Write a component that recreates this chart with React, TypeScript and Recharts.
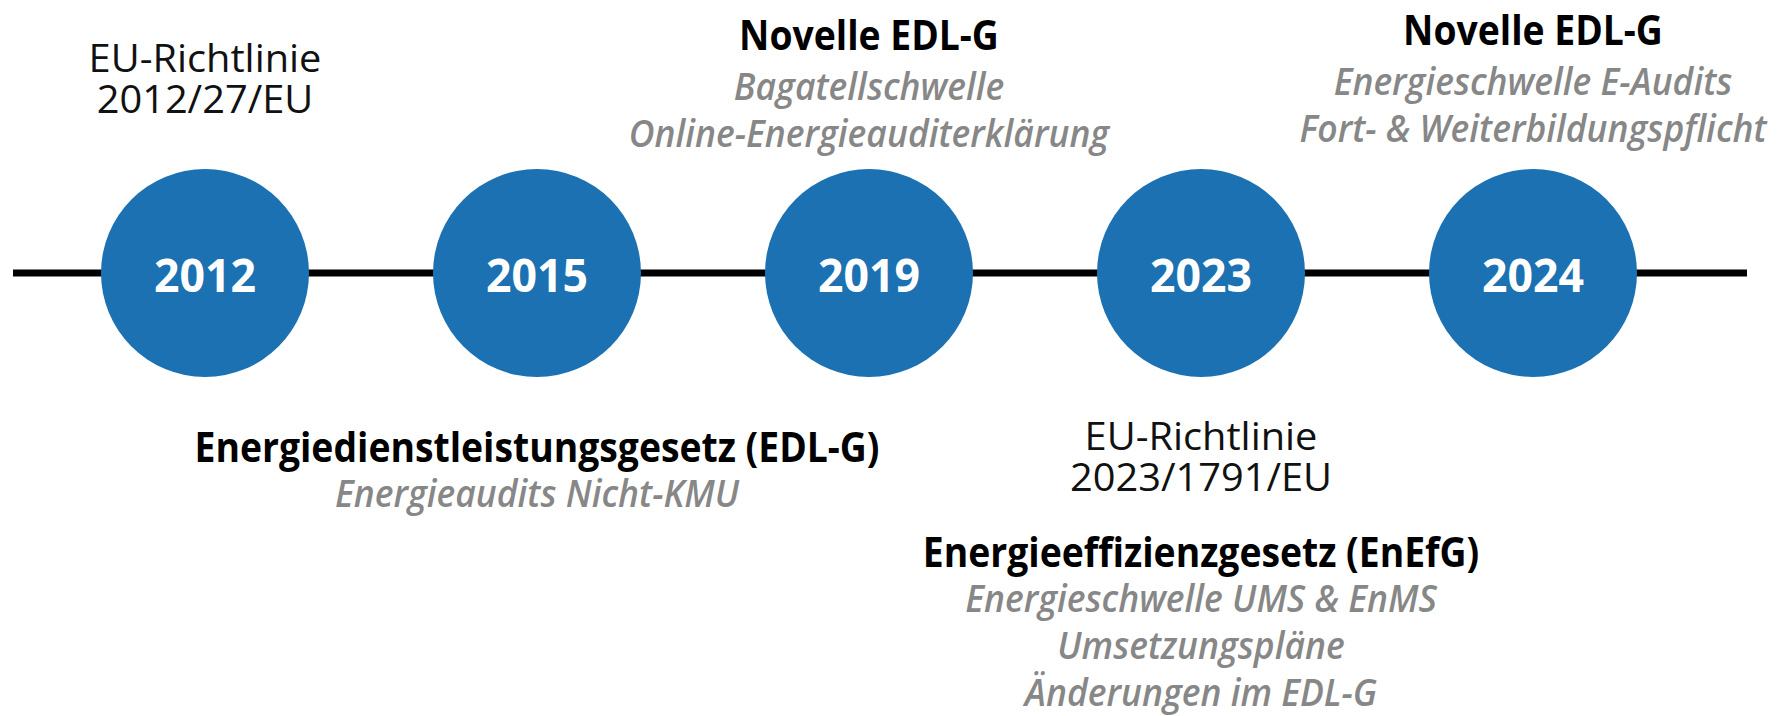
import React from "react";
import { ScatterChart, Scatter, XAxis, YAxis, ReferenceLine } from "recharts";

const years = ["2012", "2015", "2019", "2023", "2024"];
const directives: string[][] = [
  ["EU-Richtlinie", "2012/27/EU"],
  [],
  [],
  ["EU-Richtlinie", "2023/1791/EU"],
  [],
];
const laws = [
  "",
  "Energiedienstleistungsgesetz (EDL-G)",
  "Novelle EDL-G",
  "Energieeffizienzgesetz (EnEfG)",
  "Novelle EDL-G",
];
const lawDetails: string[][] = [
  [],
  ["Energieaudits Nicht-KMU"],
  ["Bagatellschwelle", "Online-Energieauditerklärung"],
  ["Energieschwelle UMS & EnMS", "Umsetzungspläne", "Änderungen im EDL-G"],
  ["Energieschwelle E-Audits", "Fort- & Weiterbildungspflicht"],
];

// baseline offsets from the timeline, per milestone
const LAYOUT: { dirY?: number; lawY?: number; detY?: number }[] = [
  { dirY: -201 },
  { lawY: 189, detY: 234 },
  { lawY: -223, detY: -173 },
  { dirY: 177, lawY: 294, detY: 339 },
  { lawY: -228, detY: -178 },
];
const DIR_STEP = 41;
const DET_STEP = 47;

const FONT = "'Open Sans', 'Noto Sans', sans-serif";
const BLUE = "#1b71b1";

const STYLES = {
  dir: { fontSize: 39, fontWeight: 400, fontStyle: "normal", fill: "#111", sx: 1.02 },
  law: { fontSize: 41, fontWeight: 700, fontStyle: "normal", fill: "#000", sx: 0.91 },
  det: { fontSize: 37, fontWeight: 600, fontStyle: "italic", fill: "#878787", sx: 0.96 },
};

const points = years.map((year, i) => ({ idx: i, v: 0, year }));

function Line({ x, y, text, kind }: { x: number; y: number; text: string; kind: keyof typeof STYLES }) {
  const s = STYLES[kind];
  return (
    <text
      x={0}
      y={0}
      transform={`translate(${x},${y}) scale(${s.sx},1)`}
      textAnchor="middle"
      fontFamily={FONT}
      fontSize={s.fontSize}
      fontWeight={s.fontWeight}
      fontStyle={s.fontStyle}
      fill={s.fill}
    >
      {text}
    </text>
  );
}

function Milestone(props: any) {
  const { cx, cy, payload } = props;
  const i = payload.idx;
  const lay = LAYOUT[i];
  const lines: React.ReactNode[] = [];
  directives[i].forEach((t, k) =>
    lines.push(<Line key={"d" + k} x={cx} y={cy + (lay.dirY ?? 0) + k * DIR_STEP} text={t} kind="dir" />)
  );
  if (laws[i]) lines.push(<Line key="l" x={cx} y={cy + (lay.lawY ?? 0)} text={laws[i]} kind="law" />);
  lawDetails[i].forEach((t, k) =>
    lines.push(<Line key={"e" + k} x={cx} y={cy + (lay.detY ?? 0) + k * DET_STEP} text={t} kind="det" />)
  );
  return (
    <g>
      <circle cx={cx} cy={cy} r={104} fill={BLUE} />
      <text
        x={0}
        y={0}
        transform={`translate(${cx},${cy + 19}) scale(0.95,1)`}
        textAnchor="middle"
        fontFamily={FONT}
        fontSize={47}
        fontWeight={700}
        fill="#fff"
      >
        {payload.year}
      </text>
      {lines}
    </g>
  );
}

export default function App() {
  return (
    <div style={{ width: 1792, height: 716, background: "#fff" }}>
      <style>{"body{margin:0}"}</style>
      <ScatterChart width={1792} height={716} margin={{ top: 0, right: 45, bottom: 170, left: 13 }}>
        <XAxis type="number" dataKey="idx" domain={[-0.5783, 4.6446]} hide />
        <YAxis type="number" dataKey="v" domain={[-1, 1]} hide />
        <ReferenceLine y={0} stroke="#000" strokeWidth={7} />
        <Scatter data={points} shape={Milestone} isAnimationActive={false} />
      </ScatterChart>
    </div>
  );
}
